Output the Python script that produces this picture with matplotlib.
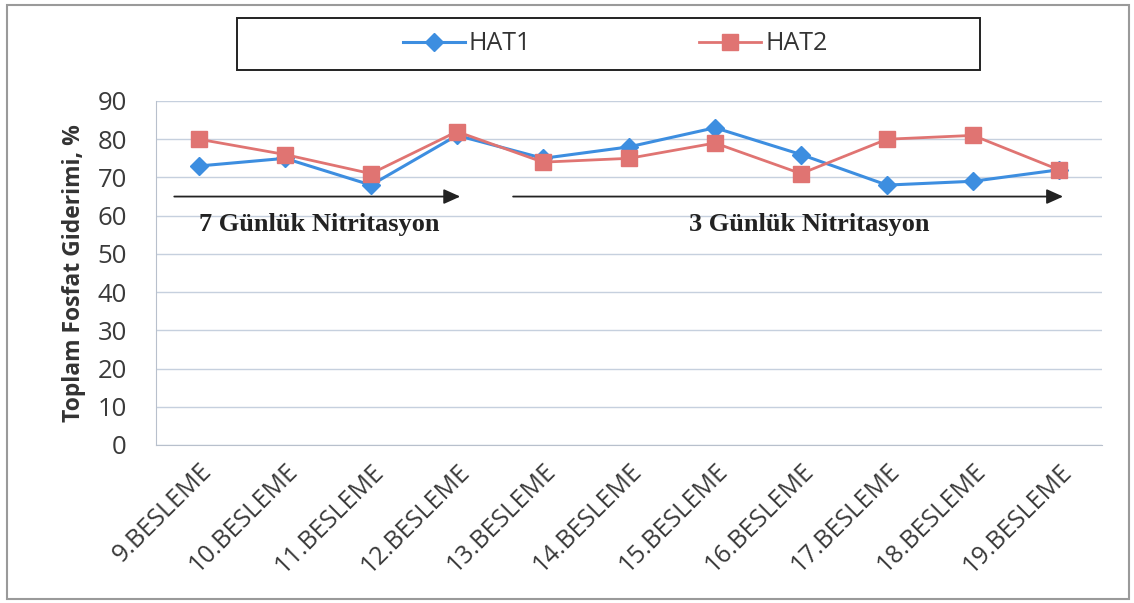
import matplotlib
matplotlib.use("Agg")
import matplotlib.pyplot as plt
from matplotlib.patches import Rectangle

categories = ["9.BESLEME", "10.BESLEME", "11.BESLEME", "12.BESLEME", "13.BESLEME",
              "14.BESLEME", "15.BESLEME", "16.BESLEME", "17.BESLEME", "18.BESLEME",
              "19.BESLEME"]
hat1 = [73, 75, 68, 81, 75, 78, 83, 76, 68, 69, 72]
hat2 = [80, 76, 71, 82, 74, 75, 79, 71, 80, 81, 72]
yticks = [0, 10, 20, 30, 40, 50, 60, 70, 80, 90]

fig = plt.figure(figsize=(11.34, 6.03), dpi=100)
ax = fig.add_axes([156/1134, 1-445/603, (1102-156)/1134, (445-101)/603])

x = list(range(len(categories)))
blue = "#3d8ee0"
red = "#e07472"
l1, = ax.plot(x, hat1, color=blue, lw=2.2, marker="D", ms=9, label="HAT1", zorder=3)
l2, = ax.plot(x, hat2, color=red, lw=2, marker="s", ms=12, label="HAT2", zorder=4)

ax.set_xlim(-0.5, len(categories) - 0.5)
ax.set_ylim(0, 90)
ax.set_yticks(yticks)
ax.set_xticks(x)
ax.set_xticklabels(categories, rotation=45, ha="right", va="top",
                   rotation_mode="anchor", fontsize=18, family="Open Sans", color="#3a3a3a")
for lab in ax.get_yticklabels():
    lab.set_fontsize(18.5)
    lab.set_family("Open Sans")
    lab.set_color("#3a3a3a")
ax.tick_params(axis="y", length=0, pad=21)
ax.tick_params(axis="x", length=0, pad=10)
ax.grid(axis="y", color="#c6d0de", lw=1)
ax.set_axisbelow(True)
for side in ["top", "right"]:
    ax.spines[side].set_visible(False)
ax.spines["left"].set_color("#b8c0cc")
ax.spines["bottom"].set_color("#b8c0cc")
ax.set_ylabel("Toplam Fosfat Giderimi, %", fontsize=16.5, fontweight="bold",
              family="Open Sans", color="#333333", labelpad=8)

# annotation arrows
ax.annotate("", xy=(3.07, 65), xytext=(-0.32, 65),
            arrowprops=dict(arrowstyle="-|>,head_length=1.0,head_width=0.45", color="#222222", lw=1.3))
ax.annotate("", xy=(10.08, 65), xytext=(3.62, 65),
            arrowprops=dict(arrowstyle="-|>,head_length=1.0,head_width=0.45", color="#222222", lw=1.3))
ax.text(0.0, 57.8, "7 Günlük Nitritasyon", fontsize=19, fontweight="bold",
        family="Liberation Serif", color="#222222", ha="left", va="center")
ax.text(7.1, 57.8, "3 Günlük Nitritasyon", fontsize=19, fontweight="bold",
        family="Liberation Serif", color="#222222", ha="center", va="center")

# legend box and entries
fig.patches.append(Rectangle((237/1134, 1-70/603), (980-237)/1134, 52/603,
                             transform=fig.transFigure, fill=False,
                             edgecolor="#222222", lw=1.4))
leg = fig.legend(handles=[l1, l2], loc="center",
                 bbox_to_anchor=(615/1134, 1-44/603),
                 ncol=2, frameon=False, prop={"family": "Open Sans", "size": 18},
                 handlelength=2.5, handletextpad=0.15, columnspacing=6.7)
for t in leg.get_texts():
    t.set_color("#333333")

fig.patches.append(Rectangle((7/1134, 4/603), 1122/1134, 594/603, transform=fig.transFigure,
                             fill=False, edgecolor="#9a9a9a", lw=1.5))

fig.savefig("out.png", dpi=100)
